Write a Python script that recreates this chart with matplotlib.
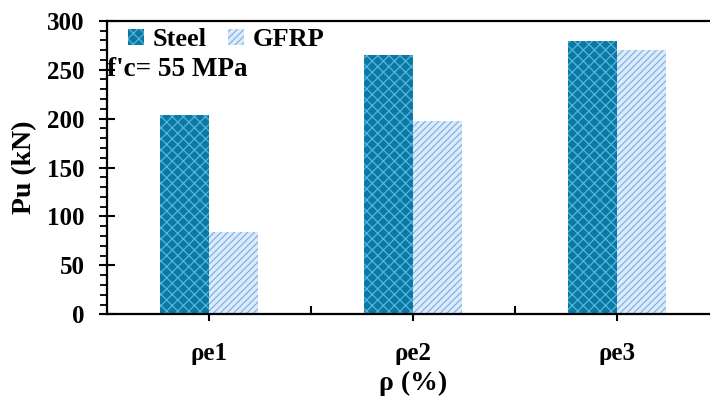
import numpy as np
import matplotlib
matplotlib.use("Agg")
import matplotlib.pyplot as plt
from matplotlib.ticker import MultipleLocator, FixedLocator

# values
categories = ["ρe1", "ρe2", "ρe3"]
steel = [204, 265, 279]
gfrp = [84, 198, 270]

plt.rcParams['font.family'] = ['Liberation Serif', 'DejaVu Serif']
plt.rcParams['font.weight'] = 'bold'
plt.rcParams['hatch.linewidth'] = 0.9

fig = plt.figure(figsize=(7.10, 4.03), dpi=100)
ax = fig.add_axes([0.1507, 0.2201, 0.862, 0.7285])

x = np.arange(len(categories))
w = 0.24
ax.bar(x - w / 2, steel, w, facecolor='#0c78a4', edgecolor='#52b6de',
       hatch='xxx', lw=0, label='Steel')
ax.bar(x + w / 2, gfrp, w, facecolor='#dcebf9', edgecolor='#82b2e6',
       hatch='/////', lw=0, label='GFRP')

ax.set_xlim(-0.5, 2.5)
ax.set_ylim(0, 300)

for s in ax.spines.values():
    s.set_linewidth(1.6)

# y axis: major every 50 crossing, minor every 10 outward
ax.yaxis.set_major_locator(MultipleLocator(50))
ax.yaxis.set_minor_locator(MultipleLocator(10))
ax.tick_params(axis='y', which='major', direction='inout', length=12, width=1.5,
               labelsize=18, pad=10)
ax.tick_params(axis='y', which='minor', direction='out', length=5, width=1.3)

# x axis: labels at centres (ticks out), separators between groups (ticks in)
ax.set_xticks(x)
ax.set_xticklabels(categories)
ax.xaxis.set_minor_locator(FixedLocator([0.5, 1.5]))
ax.tick_params(axis='x', which='major', direction='out', length=5, width=1.5,
               labelsize=18, pad=15)
ax.tick_params(axis='x', which='minor', direction='in', length=6, width=1.5)

for lab in ax.get_xticklabels() + ax.get_yticklabels():
    lab.set_fontweight('bold')

ax.set_ylabel('Pu (kN)', fontsize=20, fontweight='bold', labelpad=7)
ax.set_xlabel('ρ (%)', fontsize=20, fontweight='bold', labelpad=4)

ax.legend(loc='upper left', ncol=2, frameon=False,
          handlelength=0.6, handleheight=0.6, handletextpad=0.35,
          columnspacing=0.8, borderaxespad=0.0, bbox_to_anchor=(0.017, 1.01),
          prop={'weight': 'bold', 'size': 19})

ax.text(0.0, 0.835, "f'c= 55 MPa", transform=ax.transAxes, fontsize=19.5,
        fontweight='bold', va='center', ha='left')

fig.savefig('out.png', dpi=100)
